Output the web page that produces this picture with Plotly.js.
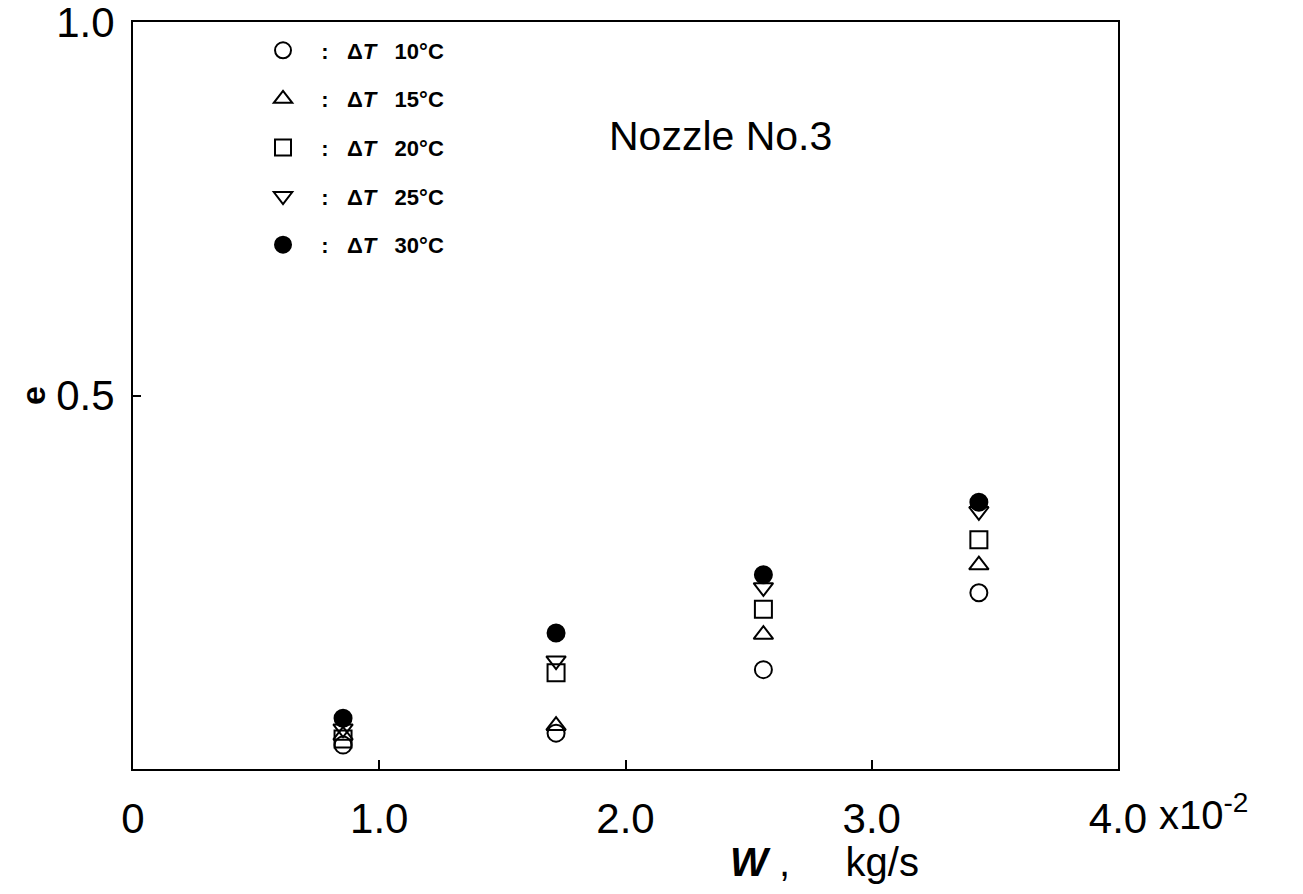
<!DOCTYPE html>
<html>
<head>
<meta charset="utf-8">
<script src="https://cdn.plot.ly/plotly-3.0.1.min.js"></script>
<style>html,body{margin:0;padding:0;background:#fff;}#chart{width:1303px;height:894px;}</style>
</head>
<body>
<div id="chart"></div>
<script>
// W values (x10^-2 kg/s)
const flowRate = [0.853, 1.718, 2.56, 3.435];
// efficiency e for each ΔT
const e_dT10 = [0.032, 0.048, 0.133, 0.236];
const e_dT15 = [0.045, 0.058, 0.180, 0.273];
const e_dT20 = [0.040, 0.129, 0.214, 0.307];
const e_dT25 = [0.054, 0.145, 0.243, 0.345];
const e_dT30 = [0.068, 0.182, 0.260, 0.357];
const seriesNames = ["10°C", "15°C", "20°C", "25°C", "30°C"];
const xTickVals = [0, 1, 2, 3, 4];
const xTickText = ["0", "1.0", "2.0", "3.0", "4.0"];
const yTickVals = [0.5, 1.0];
const yTickText = ["0.5", "1.0"];

const symbols = ["circle-open", "triangle-up-open", "square-open", "triangle-down-open", "circle"];
const seriesVals = [e_dT10, e_dT15, e_dT20, e_dT25, e_dT30];

const traces = seriesVals.map((vals, i) => ({
  x: flowRate, y: vals, type: "scatter", mode: "markers",
  name: "&nbsp;&nbsp;&nbsp;:&nbsp;&nbsp;&nbsp;Δ<i>T</i>&nbsp;&nbsp;&nbsp;" + seriesNames[i],
  legendgroup: "g" + i,
  marker: {symbol: symbols[i], size: 17, color: "#000", line: {color: "#000", width: 2}},
  cliponaxis: false
}));

const FONT = "Liberation Sans, Arial, Helvetica, sans-serif";

const layout = {
  width: 1303, height: 894,
  margin: {l: 133, r: 185, t: 22, b: 125},
  paper_bgcolor: "#fff", plot_bgcolor: "#fff",
  font: {family: FONT, color: "#000"},
  showlegend: true,
  legend: {x: 0.132, y: 0.99, xanchor: "left", yanchor: "top", bgcolor: "rgba(0,0,0,0)",
    font: {size: 22, family: FONT, weight: "bold"}, tracegroupgap: 17,
    itemwidth: 30},
  xaxis: {range: [0, 4], tickvals: xTickVals, ticktext: xTickText, ticks: "inside", ticklen: 9, tickwidth: 2,
    tickcolor: "#000", showgrid: false, zeroline: false, showline: true, linewidth: 2, linecolor: "#000",
    mirror: true, tickfont: {size: 42}, ticklabelstandoff: 12, ticklabeloverflow: "allow"},
  yaxis: {range: [0, 1], tickvals: yTickVals, ticktext: yTickText, ticks: "inside", ticklen: 8, tickwidth: 2,
    tickcolor: "#000", showgrid: false, zeroline: false, showline: true, linewidth: 2, linecolor: "#000",
    mirror: true, tickfont: {size: 42}, ticklabelstandoff: 8, ticklabeloverflow: "allow",
    title: {text: "<b>e</b>", font: {size: 34}, standoff: 0}},
  annotations: [
    {xref: "paper", yref: "paper", x: 0.596, y: 0.848, xanchor: "center", yanchor: "middle", showarrow: false,
     text: "Nozzle No.3", font: {size: 41}},
    {xref: "paper", yref: "paper", x: 0.702, y: -0.125, xanchor: "center", yanchor: "middle", showarrow: false,
     text: "<b><i>W</i></b> ,&nbsp;&nbsp;&nbsp;&nbsp;&nbsp;kg/s", font: {size: 40}},
    {xref: "paper", yref: "paper", x: 1.04, y: -0.022, xanchor: "left", yanchor: "top", showarrow: false,
     text: "x10<sup>-2</sup>", font: {size: 40}}
  ]
};

Plotly.newPlot("chart", traces, layout, {displayModeBar: false, staticPlot: true});
</script>
</body>
</html>
